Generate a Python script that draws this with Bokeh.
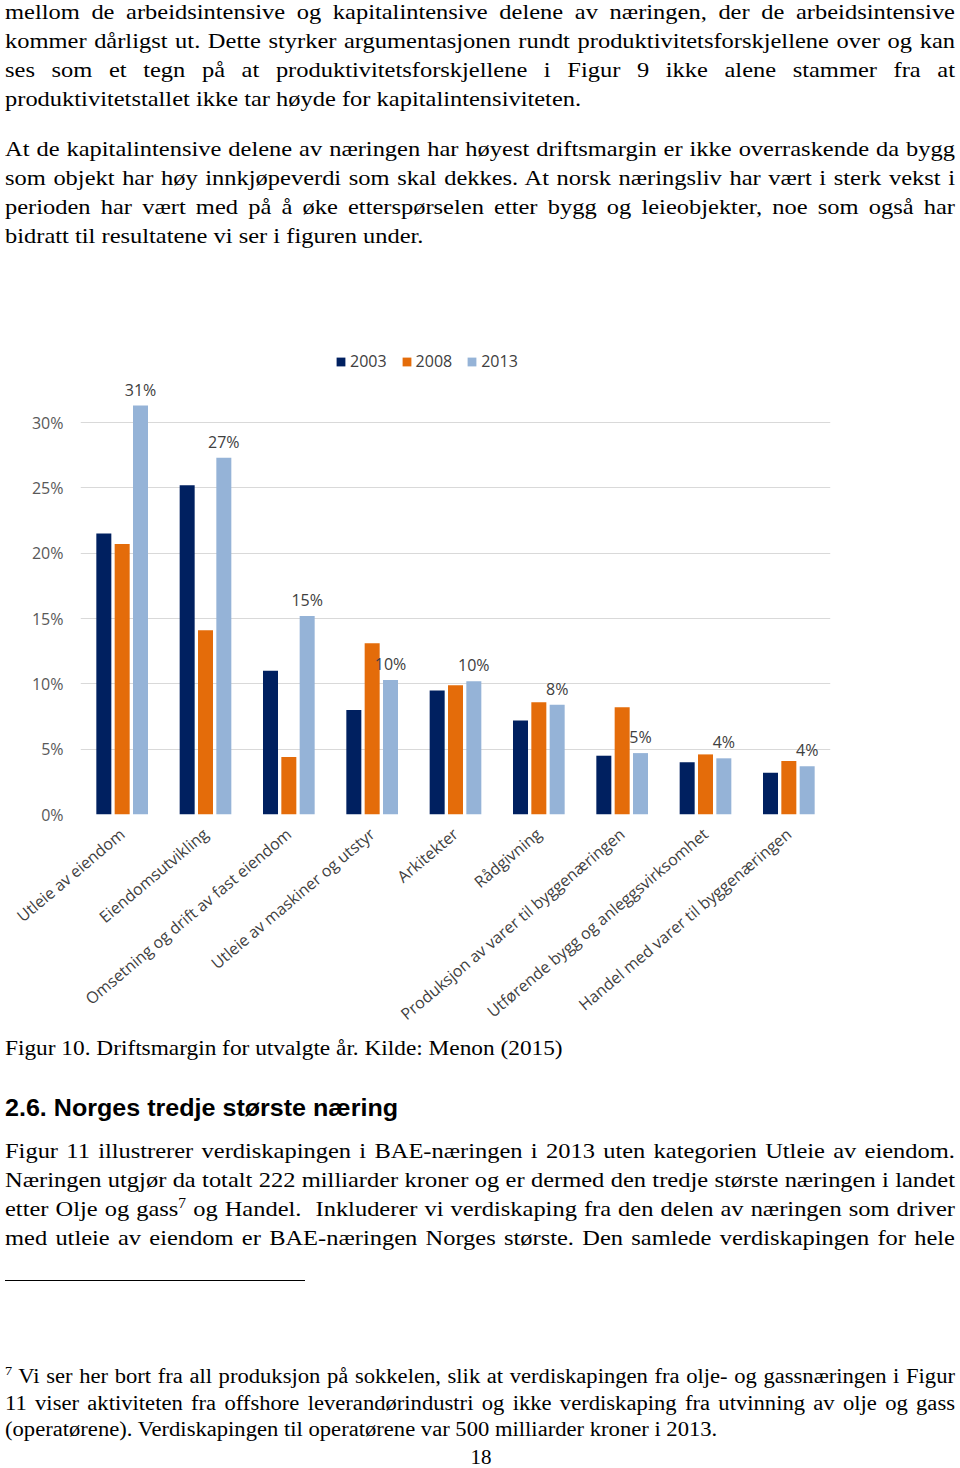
import math
from bokeh.plotting import figure
from bokeh.models import (ColumnDataSource, FactorRange, Range1d, FixedTicker,
                          PrintfTickFormatter, Legend, LegendItem, Div)
from bokeh.transform import dodge
from bokeh.layouts import column
from bokeh.core.properties import value
from bokeh.embed import file_html
from bokeh.resources import INLINE

# ---------------- data ----------------
categories = [
    "Utleie av eiendom",
    "Eiendomsutvikling",
    "Omsetning og drift av fast eiendom",
    "Utleie av maskiner og utstyr",
    "Arkitekter",
    "Rådgivning",
    "Produksjon av varer til byggenæringen",
    "Utførende bygg og anleggsvirksomhet",
    "Handel med varer til byggenæringen",
]
years = ["2003", "2008", "2013"]
v2003 = [21.5, 25.2, 11.0, 8.0, 9.5, 7.2, 4.5, 4.0, 3.2]
v2008 = [20.7, 14.1, 4.4, 13.1, 9.9, 8.6, 8.2, 4.6, 4.1]
v2013 = [31.3, 27.3, 15.2, 10.3, 10.2, 8.4, 4.7, 4.3, 3.7]
y_ticks = [0, 5, 10, 15, 20, 25, 30]
labels2013 = [f"{int(v + 0.5)}%" for v in v2013]

para1 = [
    "mellom de arbeidsintensive og kapitalintensive delene av næringen, der de arbeidsintensive",
    "kommer dårligst ut. Dette styrker argumentasjonen rundt produktivitetsforskjellene over og kan",
    "ses som et tegn på at produktivitetsforskjellene i Figur 9 ikke alene stammer fra at",
    "produktivitetstallet ikke tar høyde for kapitalintensiviteten.",
]
para2 = [
    "At de kapitalintensive delene av næringen har høyest driftsmargin er ikke overraskende da bygg",
    "som objekt har høy innkjøpeverdi som skal dekkes. At norsk næringsliv har vært i sterk vekst i",
    "perioden har vært med på å øke etterspørselen etter bygg og leieobjekter, noe som også har",
    "bidratt til resultatene vi ser i figuren under.",
]
caption = "Figur 10. Driftsmargin for utvalgte år. Kilde: Menon (2015)"
heading = "2.6. Norges tredje største næring"
para3 = [
    "Figur 11 illustrerer verdiskapingen i BAE-næringen i 2013 uten kategorien Utleie av eiendom.",
    "Næringen utgjør da totalt 222 milliarder kroner og er dermed den tredje største næringen i landet",
    "etter Olje og gass<sup style='font-size:14px;line-height:0'>7</sup> og Handel.&nbsp; Inkluderer vi verdiskaping fra den delen av næringen som driver",
    "med utleie av eiendom er BAE-næringen Norges største. Den samlede verdiskapingen for hele",
]
footnote = [
    "<sup style='font-size:13px;line-height:0'>7</sup> Vi ser her bort fra all produksjon på sokkelen, slik at verdiskapingen fra olje- og gassnæringen i Figur",
    "11 viser aktiviteten fra offshore leverandørindustri og ikke verdiskaping fra utvinning av olje og gass",
    "(operatørene). Verdiskapingen til operatørene var 500 milliarder kroner i 2013.",
]
page_number = "18"

colors = ["#002060", "#E46C0A", "#95B3D7"]

SERIF = "'Liberation Serif', 'Times New Roman', serif"
SANS = "'Liberation Sans', Arial, sans-serif"


# ---------------- text helpers ----------------
def line(text, center, size, lh, justify=True, left=5, width=950, family=SERIF,
         weight="normal", align=None, sx=1.0):
    top = center - lh / 2
    if align is None:
        align = "justify" if justify else "left"
    inner_w = width / sx
    return (f"<div style=\"position:absolute;left:{left}px;top:{top}px;width:{inner_w:.1f}px;"
            f"transform:scaleX({sx});transform-origin:0 0;"
            f"font-family:{family};font-size:{size}px;line-height:{lh}px;font-weight:{weight};"
            f"color:#000;white-space:nowrap;text-align:{align};text-align-last:{align};\">"
            f"{text}</div>")


BODY_SIZE, BODY_SX = 22, 1.112
TOP_H = 340
FIG_H = 696
BOT_Y = TOP_H + FIG_H
BOT_H = 1468 - BOT_Y

top_html = f"<div style='position:relative;width:960px;height:{TOP_H}px;overflow:hidden;'>"
for i, t in enumerate(para1):
    top_html += line(t, 11 + 29 * i, BODY_SIZE, 29, justify=(i < len(para1) - 1), sx=BODY_SX)
for i, t in enumerate(para2):
    top_html += line(t, 148 + 29 * i, BODY_SIZE, 29, justify=(i < len(para2) - 1), sx=BODY_SX)
top_html += "</div>"

bot_html = f"<div style='position:relative;width:960px;height:{BOT_H}px;'>"
bot_html += line(caption, 1048 - BOT_Y, 21, 24, justify=False, sx=1.11)
bot_html += line(heading, 1108 - BOT_Y, 24, 30, justify=False, family=SANS, weight="bold", sx=1.045)
for i, t in enumerate(para3):
    bot_html += line(t, 1150 - BOT_Y + 29 * i, BODY_SIZE, 29, justify=True, sx=BODY_SX)
bot_html += (f"<div style='position:absolute;left:5px;top:{1280 - BOT_Y}px;width:300px;height:0;"
             f"border-top:1px solid #000;'></div>")
for i, t in enumerate(footnote):
    bot_html += line(t, 1376 - BOT_Y + 26.5 * i, 20.5, 26, justify=(i < len(footnote) - 1), sx=1.103)
bot_html += line(page_number, 1457 - BOT_Y, 21, 26, align="center", left=0, width=962)
bot_html += "</div>"

top_div = Div(text=top_html, width=960, height=TOP_H, margin=0)
bot_div = Div(text=bot_html, width=960, height=BOT_H, margin=0)

# ---------------- chart ----------------
source = ColumnDataSource(dict(cat=categories, v2003=v2003, v2008=v2008,
                               v2013=v2013, lab=labels2013))

p = figure(x_range=FactorRange(*categories), y_range=Range1d(0, 35.9),
           width=960, height=FIG_H, output_backend="svg", toolbar_location=None,
           min_border_left=80, min_border_right=130, min_border_top=5,
           min_border_bottom=FIG_H - 474, outline_line_color=None,
           background_fill_color="white", border_fill_color="white")

offsets = [-0.22, 0.0, 0.22]
renderers = []
for col, o, c in zip(["v2003", "v2008", "v2013"], offsets, colors):
    r = p.vbar(x=dodge("cat", o, range=p.x_range), top=col, width=0.18,
               source=source, fill_color=c, line_color=None)
    renderers.append(r)

p.text(x=dodge("cat", 0.22, range=p.x_range), y="v2013", text="lab", source=source,
       text_align="center", text_baseline="bottom", y_offset=-5,
       text_font=value("Open Sans"), text_font_size="16px", text_color="#404040")

legend = Legend(items=[LegendItem(label=y, renderers=[r]) for y, r in zip(years, renderers)],
                orientation="horizontal", location=(255, 442),
                glyph_width=11, glyph_height=11, label_standoff=4, spacing=14,
                padding=0, margin=0, border_line_color=None, background_fill_alpha=0,
                label_text_font="Open Sans", label_text_font_size="16px",
                label_text_color="#404040", label_height=12)
p.add_layout(legend)

p.yaxis.ticker = FixedTicker(ticks=y_ticks)
p.yaxis.formatter = PrintfTickFormatter(format="%d%%")
p.yaxis.axis_line_color = None
p.yaxis.major_tick_line_color = None
p.yaxis.minor_tick_line_color = None
p.yaxis.major_label_standoff = 11
p.yaxis.major_label_text_font = "Open Sans"
p.yaxis.major_label_text_font_size = "16px"
p.yaxis.major_label_text_color = "#595959"

p.xaxis.axis_line_color = None
p.xaxis.major_tick_line_color = None
p.xaxis.minor_tick_line_color = None
p.xaxis.major_label_orientation = 0.70
p.xaxis.major_label_standoff = 11
p.xaxis.major_label_text_font = "Open Sans"
p.xaxis.major_label_text_font_size = "16px"
p.xaxis.major_label_text_color = "#404040"

p.xgrid.grid_line_color = None
p.ygrid.grid_line_color = "#D9D9D9"
p.ygrid.grid_line_width = 1

layout = column(top_div, p, bot_div, spacing=0)

open("out.html", "w").write(file_html(layout, INLINE))
